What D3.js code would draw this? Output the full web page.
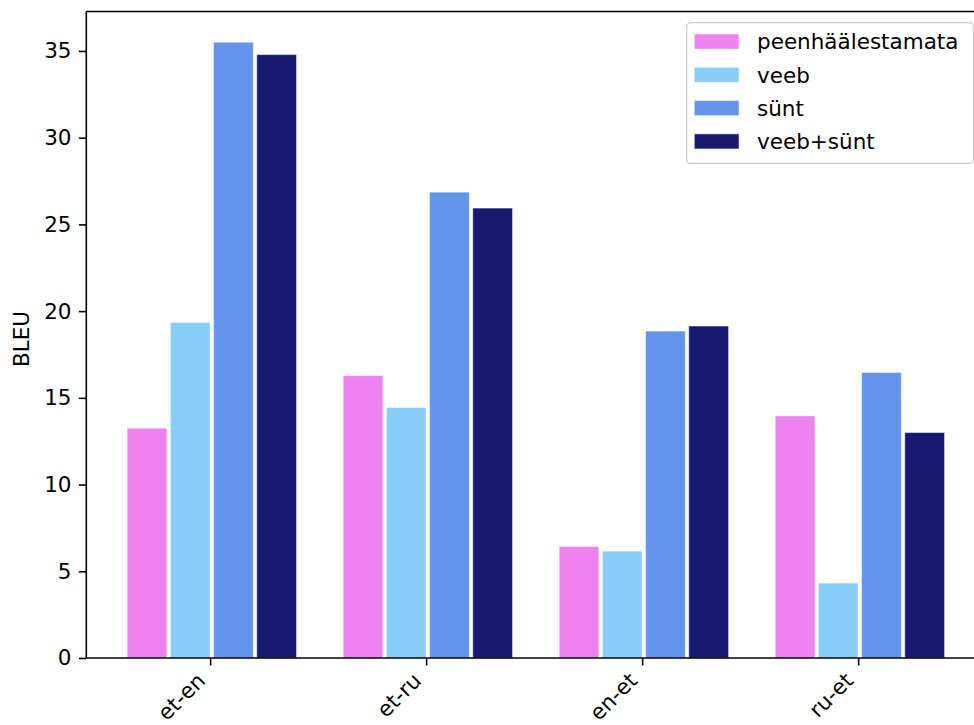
<!DOCTYPE html>
<html>
<head>
<meta charset="utf-8">
<script src="https://cdn.jsdelivr.net/npm/d3@7"></script>
<style>
  html, body { margin: 0; padding: 0; background: #fff; }
  svg { display: block; font-family: "DejaVu Sans", sans-serif; }
</style>
</head>
<body>
<svg id="chart" width="974" height="725"></svg>
<script>
// Language pairs on the x axis
const categories = ["et-en", "et-ru", "en-et", "ru-et"];
// Training setups (legend order)
const seriesNames = ["peenhäälestamata", "veeb", "sünt", "veeb+sünt"];
// BLEU scores per setup, one value per language pair
const peenhaalestamata = [13.25, 16.28, 6.43, 13.96];
const veeb = [19.35, 14.44, 6.16, 4.32];
const synt = [35.5, 26.86, 18.85, 16.46];
const veebSynt = [34.79, 25.94, 19.14, 13.0];
const yTicks = [0, 5, 10, 15, 20, 25, 30, 35];
const colors = ["#EE82EE", "#87CEFA", "#6495ED", "#191970"];

const seriesValues = [peenhaalestamata, veeb, synt, veebSynt];

const svg = d3.select("#chart");
const fontSize = 21.5;
const lw = 1.6;

// Plot area (the right side runs past the canvas edge)
const plotLeft = 86.3, plotTop = 11.5, plotBottom = 658, plotRight = 985.4;

// Bars sit at i + k*step; ticks at the right edge of the second bar
const step = 0.2, barW = 0.184;
const tickOffset = step + barW / 2;
const xMinData = -barW / 2;
const xMaxData = (categories.length - 1) + step * (seriesNames.length - 1) + barW / 2;
const xPad = (xMaxData - xMinData) * 0.05;

const x = d3.scaleLinear()
  .domain([xMinData - xPad, xMaxData + xPad])
  .range([plotLeft, plotRight]);

const yMax = d3.max(seriesValues.flat()) * 1.05;
const y = d3.scaleLinear().domain([0, yMax]).range([plotBottom, plotTop]);

// Bars
const bars = [];
seriesValues.forEach((vals, k) => {
  vals.forEach((v, i) => bars.push({ k, i, v }));
});

svg.append("g").selectAll("rect")
  .data(bars)
  .join("rect")
  .attr("x", d => x(d.i + d.k * step - barW / 2))
  .attr("width", d => x(d.i + d.k * step + barW / 2) - x(d.i + d.k * step - barW / 2))
  .attr("y", d => y(d.v))
  .attr("height", d => y(0) - y(d.v))
  .attr("fill", d => colors[d.k])
  .attr("stroke", "#fff")
  .attr("stroke-opacity", 0.45)
  .attr("stroke-width", 1);

// Y axis
const yAxis = svg.append("g")
  .attr("transform", `translate(${plotLeft},0)`)
  .call(d3.axisLeft(y).tickValues(yTicks).tickFormat(d3.format("d"))
    .tickSize(7.4).tickPadding(7.4).tickSizeOuter(0));
yAxis.select(".domain").remove();
yAxis.selectAll(".tick line").attr("stroke", "#000").attr("stroke-width", lw);
yAxis.selectAll(".tick text")
  .attr("fill", "#000")
  .style("font-size", fontSize + "px")
  .style("font-family", "DejaVu Sans, sans-serif");

// X axis with labels rotated 45 degrees, right-aligned under each tick
const xAxis = svg.append("g")
  .attr("transform", `translate(0,${plotBottom})`)
  .call(d3.axisBottom(x)
    .tickValues(categories.map((c, i) => i + tickOffset))
    .tickFormat((d, i) => categories[i])
    .tickSize(7.4).tickSizeOuter(0));
xAxis.select(".domain").remove();
xAxis.selectAll(".tick line").attr("stroke", "#000").attr("stroke-width", lw);
xAxis.selectAll(".tick text")
  .attr("fill", "#000")
  .attr("text-anchor", "end")
  .attr("dy", null)
  .attr("y", 0)
  .attr("transform", "translate(-4,24) rotate(-45)")
  .style("font-size", fontSize + "px")
  .style("font-family", "DejaVu Sans, sans-serif");

// Spines
const spines = svg.append("g")
  .attr("stroke", "#000")
  .attr("stroke-width", lw)
  .attr("fill", "none");
spines.append("line").attr("x1", plotLeft).attr("x2", plotLeft).attr("y1", plotTop).attr("y2", plotBottom);
spines.append("line").attr("x1", plotLeft).attr("x2", plotRight).attr("y1", plotTop).attr("y2", plotTop);
spines.append("line").attr("x1", plotLeft).attr("x2", plotRight).attr("y1", plotBottom).attr("y2", plotBottom);
spines.append("line").attr("x1", plotRight).attr("x2", plotRight).attr("y1", plotTop).attr("y2", plotBottom);

// Y label
svg.append("text")
  .attr("transform", `translate(28.5,339) rotate(-90)`)
  .attr("text-anchor", "middle")
  .attr("fill", "#000")
  .style("font-size", fontSize + "px")
  .text("BLEU");

// Legend
const lg = svg.append("g");
lg.append("rect")
  .attr("x", 686.7).attr("y", 22.7)
  .attr("width", 286.8).attr("height", 140.6)
  .attr("rx", 4).attr("ry", 4)
  .attr("fill", "#fff").attr("fill-opacity", 0.8)
  .attr("stroke", "#cccccc").attr("stroke-width", 1.2);

const rowH = 33.3;
const items = lg.selectAll("g.item")
  .data(seriesNames)
  .join("g")
  .attr("class", "item")
  .attr("transform", (d, i) => `translate(0,${34 + i * rowH})`);
items.append("rect")
  .attr("x", 694.3).attr("y", 0)
  .attr("width", 44.7).attr("height", 15)
  .attr("fill", (d, i) => colors[i])
  .attr("stroke", "#fff").attr("stroke-opacity", 0.45).attr("stroke-width", 1);
items.append("text")
  .attr("x", 757)
  .attr("y", 15.3)
  .attr("fill", "#000")
  .style("font-size", fontSize + "px")
  .text(d => d);
</script>
</body>
</html>
